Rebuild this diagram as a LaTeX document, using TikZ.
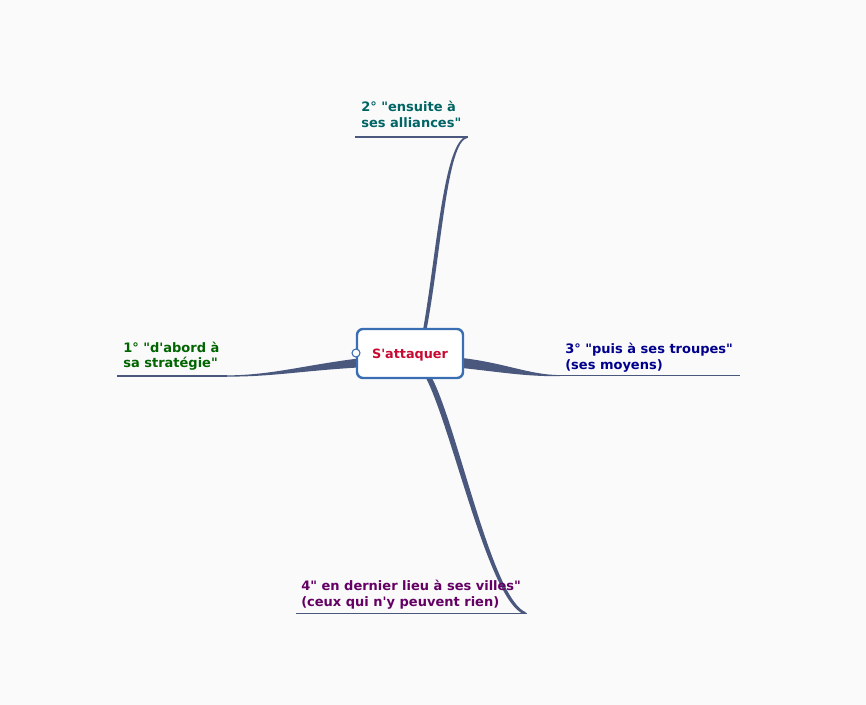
\documentclass[tikz,border=0pt]{standalone}
\usepackage{fontspec}
\newfontfamily\lblfont{DejaVu Sans}[Ligatures=TeXOff]
\definecolor{bgc}{RGB}{250,250,251}
\definecolor{branch}{RGB}{75,88,125}
\definecolor{boxblue}{RGB}{58,110,178}
\definecolor{ctext}{RGB}{200,10,50}
\definecolor{cgreen}{RGB}{0,100,0}
\definecolor{cteal}{RGB}{0,100,100}
\definecolor{cnavy}{RGB}{0,0,140}
\definecolor{cpurple}{RGB}{100,0,100}
\tikzset{
  lbl/.style={font=\lblfont\bfseries\fontsize{9.75pt}{11.6pt}\selectfont, align=left, anchor=south west, inner sep=0pt},
  under/.style={draw=branch, line width=1.1pt},
  taper/.style={fill=branch, draw=none},
  centerbox/.style={draw=boxblue, fill=white, line width=1.8pt, rounded corners=4.5pt, minimum width=79.5pt, minimum height=36.75pt, inner sep=0pt,
    font=\lblfont\bfseries\fontsize{9.6pt}{11pt}\selectfont, text=ctext, text depth=0pt},
  knob/.style={circle, draw=boxblue, fill=white, line width=0.8pt, minimum size=6pt, inner sep=0pt}
}
\begin{document}
\begin{tikzpicture}[x=0.75pt, y=-0.75pt]
\path[fill=bgc, use as bounding box] (0,0) rectangle (866,705);

% underline end points
\coordinate (l1) at (117,376);
\coordinate (l2) at (227,376);
\coordinate (t1) at (355,137);
\coordinate (t2) at (468,137);
\coordinate (r1) at (557,375.6);
\coordinate (r2) at (740,375.6);
\coordinate (b1) at (296,613.3);
\coordinate (b2) at (527,613.3);

% branches (tapered)
\path[taper] (358,358.5) .. controls (300,366) and (270,375.4) .. (225,375.4)
  -- (225,376.6) .. controls (270,377) and (300,371) .. (358,367.5) -- cycle;
\path[taper] (462,358) .. controls (505,363) and (530,375) .. (560,375.1)
  -- (560,376.2) .. controls (525,376.5) and (500,372) .. (462,368) -- cycle;
\path[taper] (423,330) .. controls (437,250) and (444,139.5) .. (467.5,136)
  -- (467.5,137.8) .. controls (447,141.5) and (441.5,250) .. (426.5,330) -- cycle;
\path[taper] (426,378) .. controls (452.5,430) and (488.5,600) .. (523.5,614)
  -- (526,612.4) .. controls (492,599) and (458.5,430) .. (432,378) -- cycle;

% underlines
\draw[under] (l1) -- (l2);
\draw[under] (t1) -- (t2);
\draw[under] (r1) -- (r2);
\draw[under] (b1) -- (b2);

% central node
\node[centerbox] (c) at (410,353.5) {S'attaquer};
\node[knob] (k) at (356,353) {};

% labels
\node[lbl, text=cgreen] (n1) at (123,372.6) {1° "d'abord à\\sa stratégie"\strut};
\node[lbl, text=cteal] (n2) at (361,132.3) {2° "ensuite à\\ses alliances"\strut};
\node[lbl, text=cnavy] (n3) at (565,374) {3° "puis à ses troupes"\\(ses moyens)\strut};
\node[lbl, text=cpurple] (n4) at (301,611.3) {4" en dernier lieu à ses villes"\\(ceux qui n'y peuvent rien)\strut};
\end{tikzpicture}
\end{document}
